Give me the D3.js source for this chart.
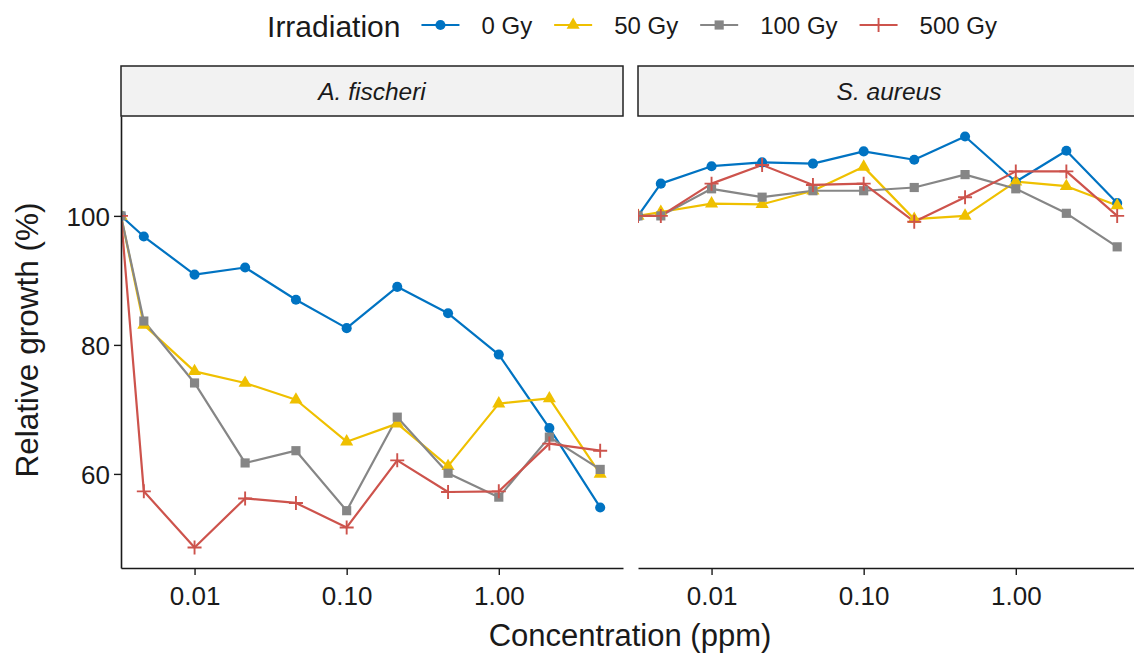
<!DOCTYPE html>
<html>
<head>
<meta charset="utf-8">
<script src="https://cdnjs.cloudflare.com/ajax/libs/d3/7.8.5/d3.min.js"></script>
<style>
  html, body { margin: 0; padding: 0; background: #fff; }
  text { font-family: "Liberation Sans", Arial, Helvetica, sans-serif; }
</style>
</head>
<body>
<svg id="chart" width="1134" height="654"></svg>
<script>
// ---------------- data ----------------
const concentrations = [0, 0.00464, 0.01, 0.0215, 0.0464, 0.1, 0.215, 0.464, 1, 2.15, 4.64];
const facets = ["A. fischeri", "S. aureus"];
const doses = ["0 Gy", "50 Gy", "100 Gy", "500 Gy"];
const doseColors = ["#0073C2", "#EFC000", "#868686", "#CD534C"];
const doseShapes = ["circle", "triangle", "square", "plus"];

// A. fischeri
const fischeri0Gy   = [100, 96.8, 90.9, 92.0, 87.0, 82.6, 89.0, 84.9, 78.5, 67.1, 54.8];
const fischeri50Gy  = [100, 83.1, 75.9, 74.1, 71.5, 65.0, 67.8, 61.2, 70.9, 71.7, 60.0];
const fischeri100Gy = [100, 83.7, 74.1, 61.7, 63.6, 54.3, 68.8, 60.1, 56.4, 65.7, 60.7];
const fischeri500Gy = [100, 57.3, 48.6, 56.2, 55.5, 51.7, 62.1, 57.2, 57.3, 64.7, 63.6];
// S. aureus
const aureus0Gy   = [100, 105.0, 107.7, 108.3, 108.1, 110.0, 108.7, 112.3, 105.3, 110.1, 102.0];
const aureus50Gy  = [100, 100.6, 101.9, 101.8, 103.9, 107.6, 99.5, 100.0, 105.3, 104.6, 101.6];
const aureus100Gy = [100, 100.0, 104.2, 102.9, 103.9, 103.9, 104.4, 106.4, 104.2, 100.4, 95.2];
const aureus500Gy = [100, 100.0, 105.0, 107.9, 104.8, 105.0, 99.1, 102.9, 106.9, 106.9, 100.0];

const xTickValues = [0.01, 0.1, 1];
const yTickValues = [60, 80, 100];
const legendTitle = "Irradiation";
const xTitle = "Concentration (ppm)";
const yTitle = "Relative growth (%)";

const seriesByFacet = [
  [fischeri0Gy, fischeri50Gy, fischeri100Gy, fischeri500Gy],
  [aureus0Gy, aureus50Gy, aureus100Gy, aureus500Gy]
];

// ---------------- layout ----------------
const svg = d3.select("#chart");
svg.append("rect").attr("width", 1134).attr("height", 654).attr("fill", "#fff");

const panelLefts = [121, 638];
const panelW = 502;
const panelTop = 116, panelBottom = 568;
const stripTop = 66;

const positive = concentrations.filter(c => c > 0);
const lx = d3.extent(positive).map(Math.log10);
const lpad = (lx[1] - lx[0]) * 0.05;
const x = d3.scaleLog()
  .domain([Math.pow(10, lx[0] - lpad), Math.pow(10, lx[1] + lpad)])
  .range([0, panelW]);
const xPos = c => c > 0 ? x(c) : x.range()[0]; // zero concentration plotted at -Inf (panel edge)

const allVals = seriesByFacet.flat(2);
const ye = d3.extent(allVals);
const ypad = (ye[1] - ye[0]) * 0.05;
const y = d3.scaleLinear().domain([ye[0] - ypad, ye[1] + ypad]).range([panelBottom, panelTop]);

const symbolPath = (shape) => {
  if (shape === "circle") return d3.symbol(d3.symbolCircle, 80)();
  if (shape === "triangle") return d3.symbol(d3.symbolTriangle, 74)();
  if (shape === "square") return d3.symbol(d3.symbolSquare, 84)();
  const s = 7;
  return `M${-s},0H${s}M0,${-s}V${s}`;
};

const line = d3.line().x(d => xPos(d[0])).y(d => y(d[1]));

facets.forEach((name, fi) => {
  const left = panelLefts[fi];

  // strip
  svg.append("rect")
    .attr("x", left).attr("y", stripTop)
    .attr("width", panelW).attr("height", panelTop - stripTop)
    .attr("fill", "#F2F2F2").attr("stroke", "#222").attr("stroke-width", 1.5);
  svg.append("text")
    .attr("x", left + panelW / 2).attr("y", 100)
    .attr("text-anchor", "middle")
    .attr("font-size", 24.5).attr("font-style", "italic").attr("fill", "#1a1a1a")
    .text(name);

  const clipId = "clip" + fi;
  svg.append("clipPath").attr("id", clipId)
    .append("rect").attr("x", 0).attr("y", panelTop).attr("width", panelW).attr("height", panelBottom - panelTop);

  const g = svg.append("g").attr("transform", `translate(${left},0)`);
  const plot = g.append("g").attr("clip-path", `url(#${clipId})`);

  const series = seriesByFacet[fi];
  series.forEach((vals, si) => {
    const pts = concentrations.map((c, i) => [c, vals[i]]);
    plot.append("path")
      .attr("d", line(pts))
      .attr("fill", "none")
      .attr("stroke", doseColors[si])
      .attr("stroke-width", 2.2)
      .attr("stroke-linejoin", "round");
  });
  series.forEach((vals, si) => {
    const shape = doseShapes[si];
    plot.selectAll(null)
      .data(concentrations.map((c, i) => [c, vals[i]]))
      .enter().append("path")
      .attr("transform", d => `translate(${xPos(d[0])},${y(d[1])})`)
      .attr("d", symbolPath(shape))
      .attr("fill", shape === "plus" ? "none" : doseColors[si])
      .attr("stroke", shape === "plus" ? doseColors[si] : "none")
      .attr("stroke-width", 1.9);
  });

  // x axis
  const xa = g.append("g").attr("transform", `translate(0,${panelBottom})`)
    .call(d3.axisBottom(x).tickValues(xTickValues).tickFormat(d3.format(".2f")).tickSize(7).tickSizeOuter(0));
  xa.select(".domain").attr("stroke", "#1a1a1a").attr("stroke-width", 1.6);
  xa.selectAll(".tick line").attr("stroke", "#1a1a1a").attr("stroke-width", 1.4);
  xa.selectAll(".tick text")
    .attr("font-family", "Liberation Sans, Arial, sans-serif")
    .attr("font-size", 26).attr("fill", "#1a1a1a")
    .attr("dy", null).attr("y", 37);

  // y axis on left panel only
  if (fi === 0) {
    const ya = g.append("g")
      .call(d3.axisLeft(y).tickValues(yTickValues).tickSize(7).tickSizeOuter(0));
    ya.select(".domain").attr("stroke", "#1a1a1a").attr("stroke-width", 1.6);
    ya.selectAll(".tick line").attr("stroke", "#1a1a1a").attr("stroke-width", 1.4);
    ya.selectAll(".tick text")
      .attr("font-family", "Liberation Sans, Arial, sans-serif")
      .attr("font-size", 26).attr("fill", "#1a1a1a")
      .attr("x", -11).attr("dy", "0.36em");
  }
});

// axis titles
svg.append("text")
  .attr("x", 630).attr("y", 646).attr("text-anchor", "middle")
  .attr("font-size", 31).attr("fill", "#1a1a1a").text(xTitle);
svg.append("text")
  .attr("transform", "translate(38,340) rotate(-90)")
  .attr("text-anchor", "middle")
  .attr("font-size", 31.5).attr("fill", "#1a1a1a").text(yTitle);

// legend (centered over the panels)
const legend = svg.append("g");
const lt = legend.append("text").attr("x", 0).attr("y", 37)
  .attr("font-size", 30).attr("fill", "#1a1a1a").text(legendTitle);
let cx = lt.node().getComputedTextLength() + 21;
const keyW = 38;
doses.forEach((d, i) => {
  legend.append("line")
    .attr("x1", cx).attr("x2", cx + keyW).attr("y1", 25).attr("y2", 25)
    .attr("stroke", doseColors[i]).attr("stroke-width", 2.2);
  legend.append("path")
    .attr("transform", `translate(${cx + keyW / 2},25)`)
    .attr("d", symbolPath(doseShapes[i]))
    .attr("fill", doseShapes[i] === "plus" ? "none" : doseColors[i])
    .attr("stroke", doseShapes[i] === "plus" ? doseColors[i] : "none")
    .attr("stroke-width", 1.9);
  cx += keyW + 22;
  const t = legend.append("text").attr("x", cx).attr("y", 34)
    .attr("font-size", 24).attr("fill", "#1a1a1a").text(d);
  cx += t.node().getComputedTextLength();
  if (i < doses.length - 1) cx += 22;
});
legend.attr("transform", `translate(${632 - cx / 2},0)`);
</script>
</body>
</html>
